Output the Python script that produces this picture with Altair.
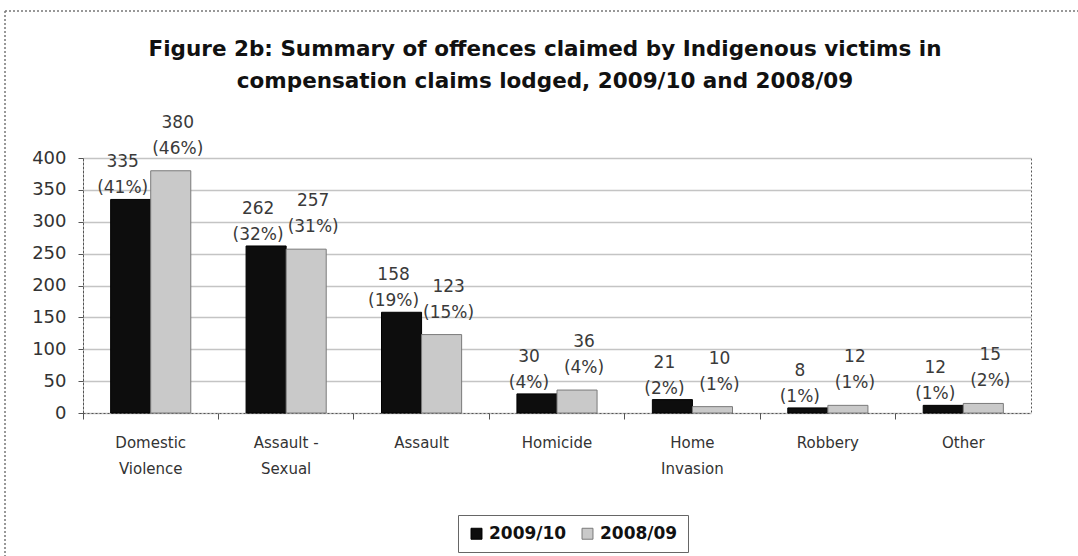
import altair as alt
import pandas as pd

categories = ["Domestic Violence", "Assault - Sexual", "Assault", "Homicide",
              "Home Invasion", "Robbery", "Other"]
years = ["2009/10", "2008/09"]
counts_2009_10 = [335, 262, 158, 30, 21, 8, 12]
pct_2009_10 = [41, 32, 19, 4, 2, 1, 1]
counts_2008_09 = [380, 257, 123, 36, 10, 12, 15]
pct_2008_09 = [46, 31, 15, 4, 1, 1, 2]
y_ticks = [0, 50, 100, 150, 200, 250, 300, 350, 400]
bar_colors = ["#0d0d0d", "#c9c9c9"]
bar_strokes = ["#000000", "#7a7a7a"]

rows = []
for yr, cs, ps in [(years[0], counts_2009_10, pct_2009_10),
                   (years[1], counts_2008_09, pct_2008_09)]:
    for c, v, p in zip(categories, cs, ps):
        rows.append({"Offence": c, "Year": yr, "Claims": v, "Label": f"{v}\n({p}%)"})
df = pd.DataFrame(rows)

FONT = "DejaVu Sans"

x_enc = alt.X(
    "Offence:N", sort=categories,
    scale=alt.Scale(paddingInner=0, paddingOuter=0),
    axis=alt.Axis(title=None, labelAngle=0, bandPosition=0,
                  labelExpr="datum.label == 'Assault - Sexual' ? ['Assault -', 'Sexual'] : split(datum.label, ' ')",
                  tickSize=6, tickColor="#555", domainColor="#555", domainDash=[2, 2],
                  labelFont=FONT, labelFontSize=15, labelColor="#333",
                  labelPadding=16, labelLineHeight=26, grid=False),
)
xo_enc = alt.XOffset("Year:N", sort=years,
                     scale=alt.Scale(paddingInner=0, paddingOuter=0.69))
y_enc = alt.Y("Claims:Q", scale=alt.Scale(domain=[0, 400], nice=False, zero=True),
              axis=alt.Axis(values=y_ticks, labelOverlap=False,
                            title=None, grid=True, gridColor="#c4c4c4",
                            gridWidth=1.5, domainColor="#555", domainDash=[2, 2],
                            tickColor="#555", tickSize=5, labelFont=FONT, labelFontSize=18,
                            labelColor="#333", labelPadding=12))

base = alt.Chart(df).encode(x=x_enc, xOffset=xo_enc, y=y_enc)

bars = base.mark_bar(strokeWidth=1).encode(
    color=alt.Color("Year:N", sort=years,
                    scale=alt.Scale(domain=years, range=bar_colors),
                    legend=alt.Legend(title=None, orient="none", direction="horizontal",
                                      legendX=375, legendY=357,
                                      symbolType="square", symbolSize=120,
                                      symbolStrokeColor="#555", symbolStrokeWidth=1,
                                      labelFont=FONT, labelFontSize=17, labelFontWeight="bold",
                                      labelColor="#111", columnPadding=12,
                                      padding=10, strokeColor="#666")),
    stroke=alt.Stroke("Year:N", sort=years,
                      scale=alt.Scale(domain=years, range=bar_strokes), legend=None),
)

labels_a = base.transform_filter(alt.datum.Year == years[0]).mark_text(
    baseline="bottom", dy=-28, dx=-8, lineBreak="\n", font=FONT,
    fontSize=17, color="#3a3a3a", lineHeight=26).encode(text="Label:N")
labels_b = base.transform_filter(alt.datum.Year == years[1]).mark_text(
    baseline="bottom", dy=-39, dx=7, lineBreak="\n", font=FONT,
    fontSize=17, color="#3a3a3a", lineHeight=26).encode(text="Label:N")

frame_df = pd.DataFrame({"k": [0]})
top_border = alt.Chart(frame_df).mark_rule(color="#777", strokeDash=[2, 2], strokeWidth=1.5).encode(
    x=alt.value(-78), x2=alt.value(1000), y=alt.value(-147))
left_border = alt.Chart(frame_df).mark_rule(color="#777", strokeDash=[2, 2], strokeWidth=1.5).encode(
    x=alt.value(-78), y=alt.value(-147), y2=alt.value(420))

chart = alt.layer(bars, labels_a, labels_b, top_border, left_border).properties(
    width=948, height=255,
    autosize="none",
    padding={"left": 83, "top": 158, "right": 47, "bottom": 143},
    title=alt.TitleParams(
        ["Figure 2b: Summary of offences claimed by Indigenous victims in",
         "compensation claims lodged, 2009/10 and 2008/09"],
        font=FONT, fontSize=21.5, fontWeight="bold", anchor="middle", frame="group",
        offset=-82, dx=-12, lineHeight=32, color="#111"),
).configure_view(stroke="#555", strokeDash=[2, 2], strokeWidth=1)

chart.save("out.html", embed_options={"renderer": "svg", "actions": False})
